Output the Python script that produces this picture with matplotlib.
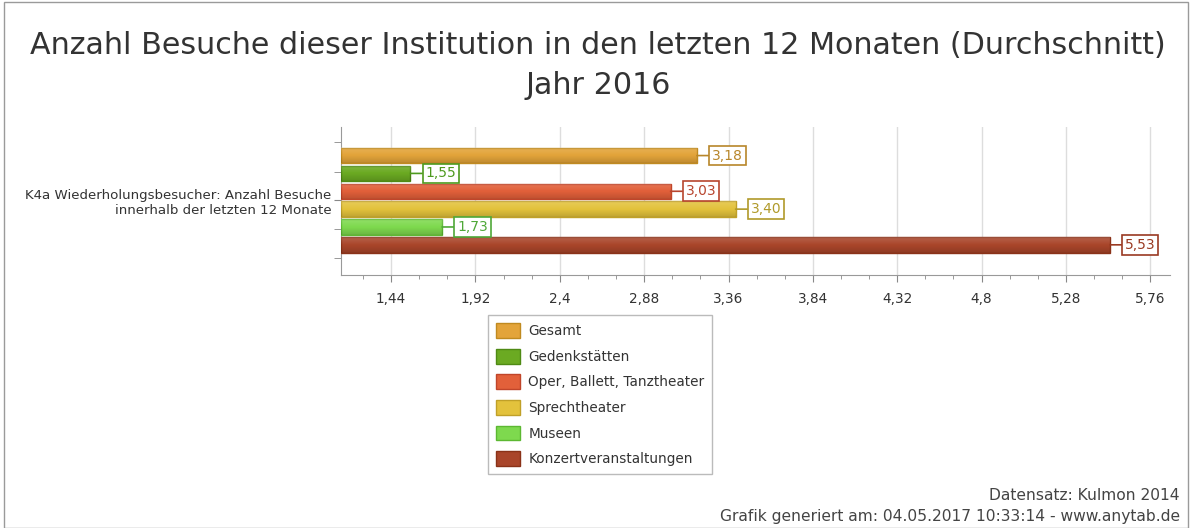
import numpy as np
import matplotlib.pyplot as plt
from matplotlib.patches import Rectangle
from matplotlib.ticker import MultipleLocator, FixedLocator, FuncFormatter

# data
series = ["Gesamt", "Gedenkstätten", "Oper, Ballett, Tanztheater",
          "Sprechtheater", "Museen", "Konzertveranstaltungen"]
values = [3.18, 1.55, 3.03, 3.40, 1.73, 5.53]
labels = ["3,18", "1,55", "3,03", "3,40", "1,73", "5,53"]
colors = ["#E3A43A", "#6BAA22", "#E2603A", "#E3C23C", "#7ED94E", "#A9452A"]
edges = ["#C08A20", "#4F8A14", "#C0452A", "#C0A028", "#5CB832", "#8A3218"]
txtcol = ["#B8862A", "#4E9A1E", "#B8452E", "#B09A2A", "#4FA838", "#9A3A22"]
category = "K4a Wiederholungsbesucher: Anzahl Besuche\ninnerhalb der letzten 12 Monate"
x_ticks = [1.44, 1.92, 2.4, 2.88, 3.36, 3.84, 4.32, 4.8, 5.28, 5.76]

W, H = 1196, 528
fig = plt.figure(figsize=(W / 100, H / 100), dpi=100)
plt.rcParams['font.family'] = ['DejaVu Sans']

# outer frame
fig.patches.append(Rectangle((4 / W, 0), (1188 - 4) / W, 1 - 2 / H, transform=fig.transFigure,
                             fill=False, edgecolor="#9a9a9a", linewidth=1))

ax = fig.add_axes([341 / W, 1 - 275 / H, (1170 - 341) / W, (275 - 127) / H])
xmin = 1.155
bh = 0.87
pos = [2.5 - i for i in range(len(values))]

# vertical shading overlay (light top -> dark bottom)
t = np.linspace(0, 1, 32)
shade = np.zeros((32, 2, 4))
shade[:, :, 0] = shade[:, :, 1] = shade[:, :, 2] = np.where(t < 0.5, 1.0, 0.0)[:, None]
shade[:, :, 3] = (np.abs(t - 0.5) * 0.3)[:, None]

for i, v in enumerate(values):
    ax.barh(pos[i], v - xmin, left=xmin, height=bh, color=colors[i],
            edgecolor=edges[i], linewidth=1, label=series[i], zorder=3)
    ax.imshow(shade, extent=(xmin, v, pos[i] - bh / 2, pos[i] + bh / 2),
              aspect="auto", origin="upper", zorder=3.2, interpolation="bilinear")
    ax.annotate(labels[i], xy=(v, pos[i]), xytext=(15, 0), textcoords="offset pixels",
                ha="left", va="center", fontsize=10, color=txtcol[i], zorder=4,
                bbox=dict(boxstyle="square,pad=0.2", fc="white", ec=txtcol[i], lw=1.2),
                arrowprops=dict(arrowstyle="-", color=txtcol[i], lw=1.2,
                                shrinkA=0, shrinkB=0))

ax.set_xlim(xmin, 5.872)
ax.set_ylim(-4.19, 4.10)
ax.xaxis.set_major_locator(FixedLocator(x_ticks))
ax.xaxis.set_minor_locator(MultipleLocator(0.16))
ax.xaxis.set_major_formatter(FuncFormatter(lambda x, p: ("%g" % round(x, 2)).replace(".", ",")))
ax.set_yticks([0])
ax.set_yticklabels([category], fontsize=9.6, color="#333333", ha="right")
ax.yaxis.set_minor_locator(FixedLocator([-3.24, -1.6, 1.6, 3.26]))
ax.tick_params(axis="x", which="major", length=5, color="#888888", labelsize=9.8,
               labelcolor="#333333", pad=7)
ax.tick_params(axis="x", which="minor", length=3, color="#888888")
ax.tick_params(axis="y", which="both", length=5, color="#888888", pad=2)
ax.grid(axis="x", which="major", color="#dddddd", linewidth=1, zorder=0)
for s in ["top", "right"]:
    ax.spines[s].set_visible(False)
for s in ["left", "bottom"]:
    ax.spines[s].set_color("#999999")

fig.text(0.5, 1 - 45 / H, "Anzahl Besuche dieser Institution in den letzten 12 Monaten (Durchschnitt)",
         ha="center", va="center", fontsize=21.7, color="#333333")
fig.text(0.5, 1 - 85 / H, "Jahr 2016", ha="center", va="center", fontsize=21.7, color="#333333")

leg = fig.legend(loc="upper left", bbox_to_anchor=(488 / W, 1 - 315 / H), fontsize=9.8,
                 frameon=True, fancybox=False, edgecolor="#aaaaaa", handlelength=1.75,
                 handleheight=1.3, labelspacing=0.78, borderpad=0.6, handletextpad=0.6,
                 borderaxespad=0)
for t in leg.get_texts():
    t.set_color("#333333")
leg.get_frame().set_linewidth(1)

fig.text(1180 / W, 1 - 496 / H, "Datensatz: Kulmon 2014", ha="right", va="center",
         fontsize=11.2, color="#444444")
fig.text(1180 / W, 1 - 517 / H, "Grafik generiert am: 04.05.2017 10:33:14 - www.anytab.de",
         ha="right", va="center", fontsize=11.2, color="#444444")

fig.savefig("out.png", dpi=100)
